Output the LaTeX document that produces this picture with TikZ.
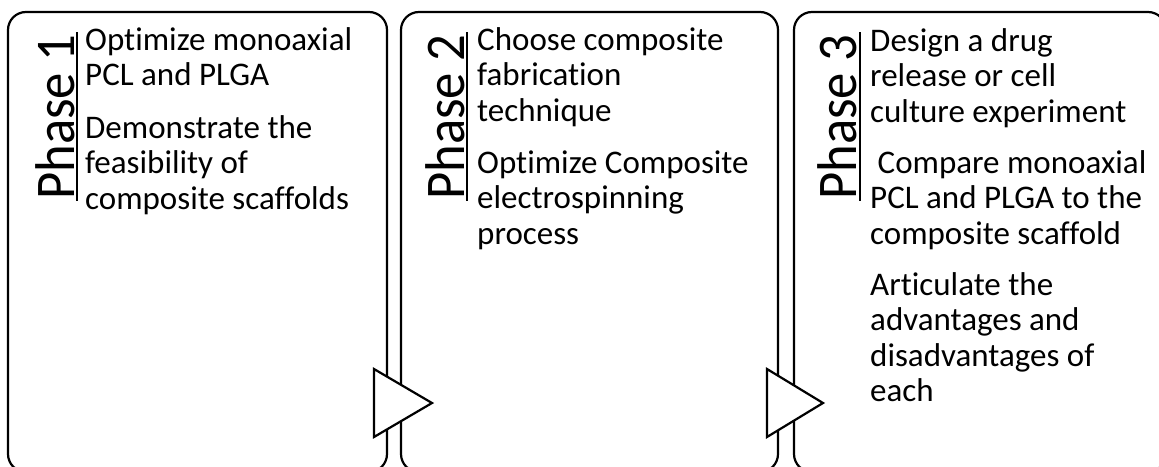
\documentclass[tikz,border=0pt]{standalone}
\usepackage{fontspec}
\setmainfont{Carlito}[Ligatures=CommonOff]
% stacked lines with the first baseline as the reference point
\newcommand\linestack[1]{\begin{tabular}[t]{@{}l@{}}#1\end{tabular}}
% phase titles are set a little narrow along the reading direction
\newcommand\phasetitle[1]{\scalebox{0.94}[1]{#1}}
\begin{document}
\begin{tikzpicture}[x=1pt,y=-1pt,
  panel/.style={draw=black,line width=2.2pt,rounded corners=18pt},
  pointer/.style={draw=black,fill=white,line width=2.2pt,line join=miter},
  phase/.style={rotate=90,anchor=base west,inner sep=0pt,
    font=\fontsize{56}{62}\selectfont},
  divider/.style={draw=black,line width=2pt},
  body/.style={anchor=base west,inner sep=0pt,
    font=\fontsize{33}{35.5}\selectfont}]
\useasboundingbox (0,0) rectangle (1159,466);
\clip (0,0) rectangle (1159,466);

% the three phase panels
\draw[panel] (8,12) rectangle (387,472);
\draw[panel] (401,12) rectangle (778,472);
\draw[panel] (794,12) rectangle (1166,472);

% arrow heads leading from one phase to the next
\filldraw[pointer] (374,369) -- (432,403) -- (374,437) -- cycle;
\filldraw[pointer] (767,369) -- (823,403) -- (767,437) -- cycle;

% phase 1
\node[phase] (ph1) at (74,200) {\phasetitle{Phase 1}};
\draw[divider] (77,32) -- (77,201);
\node[body] (t1a) at (85,50) {\linestack{Optimize monoaxial\\PCL and PLGA}};
\node[body] (t1b) at (85,138) {\linestack{Demonstrate the\\feasibility of\\composite scaffolds}};

% phase 2
\node[phase] (ph2) at (464,200) {\phasetitle{Phase 2}};
\draw[divider] (467,32) -- (467,201);
\node[body] (t2a) at (477,50) {\linestack{Choose composite\\fabrication\\technique}};
\node[body] (t2b) at (477,173) {\linestack{Optimize Composite\\electrospinning\\process}};

% phase 3
\node[phase] (ph3) at (856,200) {\phasetitle{Phase 3}};
\draw[divider] (860,32) -- (860,201);
\node[body] (t3a) at (870,51) {\linestack{Design a drug\\release or cell\\culture experiment}};
\node[body] (t3b) at (870,173) {\linestack{\ Compare monoaxial\\PCL and PLGA to the\\composite scaffold}};
\node[body] (t3c) at (870,295) {\linestack{Articulate the\\advantages and\\disadvantages of\\each}};
\end{tikzpicture}
\end{document}
